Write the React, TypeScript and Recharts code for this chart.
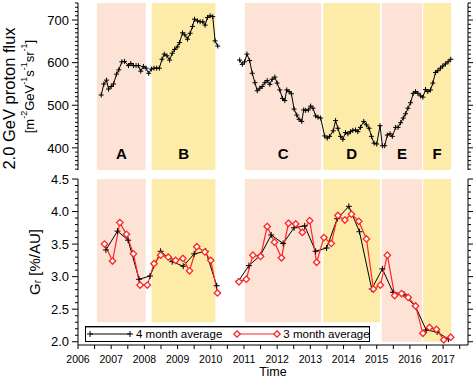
import React from 'react';
import { ComposedChart, Line, XAxis, YAxis, ReferenceArea, Legend } from 'recharts';

// time axis
const yearLabels = [2006, 2007, 2008, 2009, 2010, 2011, 2012, 2013, 2014, 2015, 2016, 2017];
const halfYearTicks = yearLabels.flatMap((y) => [y, y + 0.5]);

// periods A-F
const periodNames = ['A', 'B', 'C', 'D', 'E', 'F'];
const periodStart = [2006.57, 2008.22, 2011.03, 2013.39, 2015.15, 2016.4];
const periodEnd = [2008.04, 2010.14, 2013.33, 2015.1, 2016.37, 2017.24];
const periodGrBottom = [2.3, 2.3, 2.3, 2.3, 2.0, 2.0];

// 2.0 GeV proton flux (null = data gap)
const fluxYears = [
  2006.7, 2006.78, 2006.86, 2006.92, 2007.0, 2007.07, 2007.16, 2007.23, 2007.32, 2007.4, 2007.52, 2007.59,
  2007.67, 2007.75, 2007.82, 2007.89, 2007.97, 2008.05, 2008.13, 2008.21, 2008.29, 2008.37, 2008.45, 2008.53,
  2008.6, 2008.68, 2008.76, 2008.84, 2008.91, 2008.99, 2009.06, 2009.15, 2009.22, 2009.3, 2009.38, 2009.45,
  2009.51, 2009.6, 2009.68, 2009.76, 2009.83, 2009.9, 2009.98, 2010.06, 2010.13, 2010.21,
  2010.5,
  2010.87, 2010.95, 2011.02, 2011.09, 2011.17, 2011.25, 2011.33, 2011.4, 2011.48, 2011.55, 2011.63, 2011.7,
  2011.78, 2011.85, 2011.93, 2012.0, 2012.08, 2012.16, 2012.23, 2012.29, 2012.36, 2012.43, 2012.51, 2012.59,
  2012.66, 2012.74, 2012.8, 2012.86, 2012.94, 2013.01, 2013.08, 2013.16, 2013.23, 2013.31, 2013.43, 2013.51,
  2013.58, 2013.69, 2013.76, 2013.83, 2013.91, 2013.98, 2014.06, 2014.13, 2014.21, 2014.28, 2014.36, 2014.43,
  2014.51, 2014.61, 2014.69, 2014.77, 2014.84, 2014.92, 2015.0, 2015.1, 2015.17, 2015.24, 2015.32, 2015.4,
  2015.47, 2015.57, 2015.64, 2015.72, 2015.8, 2015.87, 2015.94, 2016.02, 2016.1, 2016.17, 2016.24, 2016.32,
  2016.39, 2016.47, 2016.54, 2016.62, 2016.69, 2016.77, 2016.84, 2016.92, 2016.99, 2017.07, 2017.15, 2017.23,
];
const fluxValues = [
  524, 550, 559, 538, 544, 550, 573, 583, 602, 603, 593, 598,
  593, 593, 593, 580, 591, 587, 575, 585, 587, 587, 587, 608,
  620, 616, 606, 622, 631, 637, 647, 670, 665, 655, 669, 685,
  702, 698, 696, 696, 688, 706, 710, 708, 651, 639,
  null,
  606, 596, 602, 620, 605, 575, 553, 534, 540, 544, 553, 558,
  549, 561, 566, 552, 536, 516, 511, 536, 532, 527, 491, 477,
  467, 462, 489, 488, 489, 498, 493, 475, 472, 470, 428, 423,
  427, 440, 464, 446, 427, 420, 436, 433, 438, 441, 442, 438,
  448, 462, 454, 446, 427, 411, 409, 452, 405, 405, 430, 433,
  427, 448, 448, 459, 470, 480, 493, 506, 528, 532, 528, 522,
  519, 537, 532, 536, 552, 577, 581, 587, 592, 597, 602, 608,
];

// radial gradient Gr, 4 month average
const gr4Years = [
  2006.84, 2007.19, 2007.51, 2007.84, 2008.17, 2008.49, 2008.84, 2009.17, 2009.5, 2009.85, 2010.18,
  2010.5,
  2010.83, 2011.15, 2011.5, 2011.82, 2012.18, 2012.51, 2012.83, 2013.16, 2013.49, 2013.81, 2014.16, 2014.48,
  2014.85, 2015.17, 2015.49, 2015.82, 2016.17, 2016.49, 2016.82, 2017.16,
];
const gr4Values = [
  3.41, 3.7, 3.56, 2.96, 3.01, 3.39, 3.23, 3.16, 3.35, 3.39, 2.86,
  null,
  2.93, 3.17, 3.33, 3.64, 3.51, 3.75, 3.78, 3.39, 3.44, 3.89, 4.08, 3.69,
  2.81, 3.12, 2.76, 2.73, 2.54, 2.18, 2.15, 2.04,
];

// radial gradient Gr, 3 month average
const gr3Years = [
  2006.8, 2007.04, 2007.26, 2007.46, 2007.67, 2007.87, 2008.09, 2008.29, 2008.49, 2008.72, 2008.94, 2009.16,
  2009.36, 2009.58, 2009.82, 2010.0, 2010.2,
  2010.5,
  2010.85, 2011.07, 2011.27, 2011.5, 2011.7, 2011.92, 2012.13, 2012.34, 2012.56, 2012.76, 2012.98, 2013.19,
  2013.41, 2013.63, 2013.83, 2014.04, 2014.24, 2014.46, 2014.69, 2014.9, 2015.11, 2015.32, 2015.54, 2015.75,
  2015.95, 2016.17, 2016.39, 2016.59, 2016.8, 2017.02, 2017.23,
];
const gr3Values = [
  3.5, 3.24, 3.83, 3.65, 3.35, 2.87, 2.87, 3.2, 3.33, 3.3, 3.25, 3.28,
  3.09, 3.46, 3.38, 3.25, 2.75,
  null,
  2.92, 2.96, 3.33, 3.31, 3.77, 3.53, 3.29, 3.82, 3.81, 3.68, 3.86, 3.22,
  3.6, 3.51, 3.94, 3.87, 3.96, 3.85, 3.58, 2.81, 2.87, 3.33, 2.71, 2.74,
  2.68, 2.55, 2.13, 2.22, 2.19, 2.03, 2.07,
];

const seriesNames = ['4 month average', '3 month average'];

const fluxTickLabels = [400, 500, 600, 700];
const grTickLabels = [2.0, 2.5, 3.0, 3.5, 4.0, 4.5];

const fluxMinorTicks = Array.from({ length: 40 }, (_, i) => 350 + i * 10);
const grMinorTicks = Array.from({ length: 26 }, (_, i) => Math.round((2 + i * 0.1) * 10) / 10);

const X_DOMAIN = [2006, 2017.75];
const PEACH = '#fde3d5';
const YELLOW = '#fdeca9';
const RED = '#ff2424';
const FONT = '"Liberation Sans", Arial, Helvetica, sans-serif';

const fluxData = fluxYears.map((t, i) => ({ t, v: fluxValues[i] }));
const gr4Data = gr4Years.map((t, i) => ({ t, v: gr4Values[i] }));
const gr3Data = gr3Years.map((t, i) => ({ t, v: gr3Values[i] }));

const isIn = (list: number[], v: number) => list.some((l) => Math.abs(l - v) < 1e-6);

const leftTick = (labels: number[], fmt: (v: number) => string) => (p: any) => {
  const v = p.payload.value;
  const major = isIn(labels, v);
  return (
    <g>
      <line x1={p.x - (major ? 6 : 3)} x2={p.x} y1={p.y} y2={p.y} stroke="#000" />
      {major && (
        <text x={p.x - 9} y={p.y} dy="0.36em" textAnchor="end" fontSize={13} fill="#000">
          {fmt(v)}
        </text>
      )}
    </g>
  );
};

const rightTick = (labels: number[]) => (p: any) => {
  const major = isIn(labels, p.payload.value);
  return <line x1={p.x} x2={p.x + (major ? 6 : 3)} y1={p.y} y2={p.y} stroke="#000" />;
};

const bottomTick = (withLabels: boolean) => (p: any) => {
  const v = p.payload.value;
  return (
    <g>
      <line x1={p.x} x2={p.x} y1={p.y} y2={p.y + 4} stroke="#000" />
      {withLabels && Number.isInteger(v) && (
        <text x={p.x} y={p.y + 18} textAnchor="middle" fontSize={10.5} fill="#000">
          {v}
        </text>
      )}
    </g>
  );
};

const topTick = (p: any) => <line x1={p.x} x2={p.x} y1={p.y - 4} y2={p.y} stroke="#000" />;

const PlusDot = (half: number) => (p: any) => {
  if (p.cx == null || p.cy == null || p.payload?.v == null) return <g key={p.key} />;
  return (
    <path
      key={p.key}
      d={`M${p.cx - half},${p.cy}h${half * 2}M${p.cx},${p.cy - half}v${half * 2}`}
      stroke="#000"
      strokeWidth={1}
    />
  );
};

const DiamondDot = (p: any) => {
  if (p.cx == null || p.cy == null || p.payload?.v == null) return <g key={p.key} />;
  const s = 3.2;
  return (
    <path
      key={p.key}
      d={`M${p.cx},${p.cy - s}L${p.cx + s},${p.cy}L${p.cx},${p.cy + s}L${p.cx - s},${p.cy}Z`}
      fill="#fff"
      stroke={RED}
      strokeWidth={1.3}
    />
  );
};

const FluxTitle = (props: any) => {
  const vb = props.viewBox || { x: 0, y: 3, width: 78, height: 167 };
  const cy = vb.y + vb.height / 2;
  return (
    <g fill="#000">
      <text transform={`translate(${vb.x + 9},${cy + 12}) rotate(-90)`} textAnchor="middle" dominantBaseline="central" fontSize={16.5}>
        2.0 GeV proton flux
      </text>
      <text transform={`translate(${vb.x + 29},${cy}) rotate(-90)`} textAnchor="middle" dominantBaseline="central" fontSize={13}>
        [m<tspan dy={-5} fontSize={9}>-2</tspan>
        <tspan dy={5}>GeV</tspan>
        <tspan dy={-5} fontSize={9}>-1</tspan>
        <tspan dy={5}>s</tspan>
        <tspan dy={-5} fontSize={9}>-1</tspan>
        <tspan dy={5}>sr</tspan>
        <tspan dy={-5} fontSize={9}>-1</tspan>
        <tspan dy={5}>]</tspan>
      </text>
    </g>
  );
};

const GrTitle = (props: any) => {
  const vb = props.viewBox || { x: 0, y: 14, width: 78, height: 166 };
  const cy = vb.y + vb.height / 2;
  return (
    <text transform={`translate(${vb.x + 34},${cy}) rotate(-90)`} textAnchor="middle" dominantBaseline="central" fontSize={15} fill="#000">
      G<tspan dy={3} fontSize={10}>r</tspan>
      <tspan dy={-3}> [%/AU]</tspan>
    </text>
  );
};

const LegendBox = (props: any) => {
  const items = [...(props.payload || [])].sort(
    (a: any, b: any) => seriesNames.indexOf(a.value) - seriesNames.indexOf(b.value)
  );
  return (
    <div
      style={{
        display: 'flex',
        alignItems: 'center',
        height: 16,
        boxSizing: 'border-box',
        border: '1px solid #000',
        boxShadow: 'inset 0 1px 0 #999',
        background: '#fff',
        fontSize: 11.5,
        color: '#000',
        whiteSpace: 'nowrap',
        fontFamily: FONT,
      }}
    >
      {items.map((it: any, i: number) => {
        const isRed = it.value === seriesNames[1];
        return (
          <React.Fragment key={it.value}>
            <svg width={44} height={12} style={{ marginLeft: i === 0 ? 2 : 13, overflow: 'visible' }}>
              <line x1={2} x2={42} y1={6} y2={6} stroke={isRed ? RED : '#000'} strokeWidth={isRed ? 1.2 : 1} />
              {isRed ? (
                <path d="M2,2.8L5.2,6L2,9.2L-1.2,6ZM42,2.8L45.2,6L42,9.2L38.8,6Z" fill="#fff" stroke={RED} strokeWidth={1.3} />
              ) : (
                <path d="M-1,6h6M2,3v6M39,6h6M42,3v6" stroke="#000" />
              )}
            </svg>
            <span style={{ marginLeft: 4 }}>{it.value}</span>
          </React.Fragment>
        );
      })}
    </div>
  );
};

export default function App() {
  return (
    <div style={{ position: 'absolute', left: 0, top: 0, width: 473, height: 380, background: '#fff', fontFamily: FONT }}>
      <div style={{ position: 'absolute', left: 0, top: 0 }}>
        <ComposedChart width={473} height={180} margin={{ top: 3, right: 0, bottom: 10, left: 0 }}>
          <XAxis
            type="number"
            dataKey="t"
            domain={X_DOMAIN}
            allowDataOverflow
            ticks={halfYearTicks}
            interval={0}
            height={0}
            tickSize={0}
            tickMargin={0}
            tickLine={false}
            tick={bottomTick(false)}
            stroke="#000"
          />
          <XAxis
            xAxisId="top"
            orientation="top"
            type="number"
            domain={X_DOMAIN}
            allowDataOverflow
            ticks={halfYearTicks}
            interval={0}
            height={0}
            tickSize={0}
            tickMargin={0}
            tickLine={false}
            tick={topTick}
            stroke="#000"
          />
          <YAxis
            type="number"
            domain={[348, 740]}
            allowDataOverflow
            ticks={fluxMinorTicks}
            interval={0}
            width={78}
            tickSize={0}
            tickMargin={0}
            tickLine={false}
            tick={leftTick(fluxTickLabels, (v) => String(v))}
            stroke="#000"
            label={<FluxTitle />}
          />
          <YAxis
            yAxisId="right"
            orientation="right"
            type="number"
            domain={[348, 740]}
            allowDataOverflow
            ticks={fluxMinorTicks}
            interval={0}
            width={5}
            tickSize={0}
            tickMargin={0}
            tickLine={false}
            tick={rightTick(fluxTickLabels)}
            stroke="#000"
          />
          {periodNames.map((name, i) => (
            <ReferenceArea
              key={name}
              x1={periodStart[i]}
              x2={periodEnd[i]}
              fill={i % 2 === 0 ? PEACH : YELLOW}
              fillOpacity={1}
              stroke="none"
              label={{ value: name, position: 'insideBottom', offset: 11, fontSize: 15, fontWeight: 700, fill: '#000' }}
            />
          ))}
          <Line
            data={fluxData}
            dataKey="v"
            stroke="#000"
            strokeWidth={1}
            dot={PlusDot(2.5)}
            activeDot={false}
            isAnimationActive={false}
          />
        </ComposedChart>
      </div>
      <div style={{ position: 'absolute', left: 0, top: 165 }}>
        <ComposedChart width={473} height={215} margin={{ top: 14, right: 0, bottom: 0, left: 0 }}>
          <XAxis
            type="number"
            dataKey="t"
            domain={X_DOMAIN}
            allowDataOverflow
            ticks={halfYearTicks}
            interval={0}
            height={35}
            tickSize={0}
            tickMargin={0}
            tickLine={false}
            tick={bottomTick(true)}
            stroke="#000"
            label={{ value: 'Time', position: 'insideBottom', offset: 4, fontSize: 12.5, fill: '#000' }}
          />
          <XAxis
            xAxisId="top"
            orientation="top"
            type="number"
            domain={X_DOMAIN}
            allowDataOverflow
            ticks={halfYearTicks}
            interval={0}
            height={0}
            tickSize={0}
            tickMargin={0}
            tickLine={false}
            tick={topTick}
            stroke="#000"
          />
          <YAxis
            type="number"
            domain={[1.95, 4.5]}
            allowDataOverflow
            ticks={grMinorTicks}
            interval={0}
            width={78}
            tickSize={0}
            tickMargin={0}
            tickLine={false}
            tick={leftTick(grTickLabels, (v) => v.toFixed(1))}
            stroke="#000"
            label={<GrTitle />}
          />
          <YAxis
            yAxisId="right"
            orientation="right"
            type="number"
            domain={[1.95, 4.5]}
            allowDataOverflow
            ticks={grMinorTicks}
            interval={0}
            width={5}
            tickSize={0}
            tickMargin={0}
            tickLine={false}
            tick={rightTick(grTickLabels)}
            stroke="#000"
          />
          {periodNames.map((name, i) => (
            <ReferenceArea
              key={name}
              x1={periodStart[i]}
              x2={periodEnd[i]}
              y1={periodGrBottom[i]}
              y2={4.5}
              fill={i % 2 === 0 ? PEACH : YELLOW}
              fillOpacity={1}
              stroke="none"
            />
          ))}
          <Line
            data={gr4Data}
            dataKey="v"
            name={seriesNames[0]}
            stroke="#000"
            strokeWidth={1}
            dot={PlusDot(3)}
            activeDot={false}
            isAnimationActive={false}
          />
          <Line
            data={gr3Data}
            dataKey="v"
            name={seriesNames[1]}
            stroke={RED}
            strokeWidth={1.2}
            dot={DiamondDot}
            activeDot={false}
            isAnimationActive={false}
          />
          <Legend
            verticalAlign="middle"
            align="center"
            content={<LegendBox />}
            wrapperStyle={{ left: 85, top: 161, width: 285, height: 16 }}
          />
        </ComposedChart>
      </div>
    </div>
  );
}
